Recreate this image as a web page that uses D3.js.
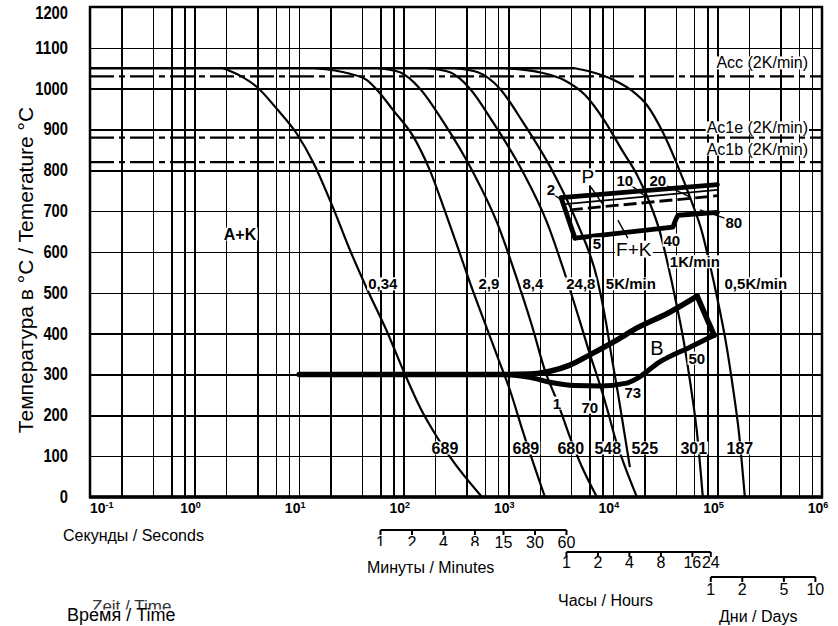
<!DOCTYPE html>
<html>
<head>
<meta charset="utf-8">
<script src="https://cdn.jsdelivr.net/npm/d3@7/dist/d3.min.js"></script>
<style>
body { margin:0; background:#fff; }
svg { display:block; font-family:"Liberation Sans", Arial, sans-serif; }
</style>
</head>
<body>
<svg id="cct" width="838" height="626"></svg>
<script>
// axes
var tempTicks = [0,100,200,300,400,500,600,700,800,900,1000,1100,1200];
var decades = [0.1,1,10,100,1000,10000,100000,1000000];
var decadeExp = ["-1","0","1","2","3","4","5","6"];
var gridSteps = [1,2,4,6,8];

// extra time scales
var minuteTicks = [1,2,4,8,15,30,60];
var hourTicks = [1,2,4,8,16,24];
var dayTicks = [1,2,5,10];

// austenitizing temperature and Ac points
var austTemp = 1050;
var austTimes = [0.1, 4335];
var acTemps = [1030, 880, 820];
var acNames = ["Acc (2K/min)", "Ac1e (2K/min)", "Ac1b (2K/min)"];
var acLabelTemps = [1063, 904, 852];

// cooling curves [time s, temp C]
var cool034 = [[1.87,1050],[2.72,1032],[3.95,1004],[6.14,950],[9.53,889],[13.6,820],[21,710],[30.6,605],[44.5,510],[69,406],[103,300],[143,220],[208,147],[277,98],[560,0]];
var cool29 = [[14.2,1050],[30,1037],[44.5,1021],[59.2,989],[78.9,948],[122,885],[178,800],[248,700],[330,610],[430,525],[624,413],[831,328],[1036,262],[1380,160],[2240,0]];
var cool84 = [[56.6,1050],[92,1040],[143,1000],[240,918],[459,796],[778,673],[1236,527],[1682,420],[2240,310],[2980,230],[3880,147],[4840,85],[7030,0]];
var cool248 = [[170,1050],[277,1040],[430,1000],[713,918],[1380,796],[2340,673],[3630,532],[4840,430],[6030,350],[7520,275],[8950,210],[10440,147],[13030,75],[16980,0]];
var cool5 = [[309,1050],[512,1040],[831,1000],[1380,918],[2673,796],[4530,673],[7194,527],[8570,430],[9780,340],[11170,255],[12740,165],[14550,73]];
var cool1 = [[927,1050],[2005,1040],[3475,1020],[5400,985],[8390,920],[12190,850],[16950,790],[22570,720],[28130,650],[33560,570],[40000,480],[47700,380],[55700,270],[63600,160],[72500,0]];
var cool05 = [[4335,1050],[6030,1042],[10440,1020],[15200,995],[21150,960],[30060,893],[40930,816],[56900,722],[71000,650],[84600,570],[100900,480],[120300,380],[140300,270],[160200,160],[182800,0]];

var coolNames = ["0,34","2,9","8,4","24,8","5K/min","1K/min","0,5K/min"];
var coolNameAt = [[63,522],[653,522],[1718,522],[4940,522],[14860,522],[60800,576],[232800,522]];
var hardness = ["689","689","680","548","525","301","187"];
var hardnessTimes = [248,1472,3960,8950,20200,59400,163800];
var hardnessTemp = 120;

// ferrite / pearlite field
var pearliteTop = [[3200,733],[100000,765]];
var pearliteLeft = [[3200,733],[4340,634]];
var pearliteBottom = [[4340,634],[37500,661],[40000,680],[42000,690],[100000,697]];
var pearliteInner = [[3475,717],[100000,752]];
var pearliteDash = [[3880,703],[100000,738]];

// martensite start + bainite field
var bainiteUpper = [[10,300],[927,300],[1610,301],[2500,308],[3880,323],[6200,350],[11000,385],[17000,414],[33500,450],[64000,492]];
var bainiteRight = [[64000,492],[93000,396]];
var bainiteLower = [[927,300],[1610,293],[2500,281],[4340,273],[7520,272],[13600,279],[16950,290],[28100,331],[54500,367],[93000,396]];

// field names and transformed amounts (%)
var regionNames = ["A+K","P","F+K","B"];
var regionAt = [[2.72,644],[5770,784],[15850,607],[26360,365]];
var pctNames = ["2","10","20","80","5","40","50","1","70","73"];
var pctAt = [[2550,754],[13030,776],[26900,776],[143600,673],[7030,620],[36640,629],[63500,340],[2920,230],[6030,220],[15520,255]];
var leaders = [
  [[2667,742],[3250,727]],
  [[6170,759],[8200,713]],
  [[15200,762],[20230,737]],
  [[32800,762],[54450,735]],
  [[123000,681],[67900,703]],
  [[13900,634],[11170,678]]
];

var svg = d3.select("#cct"),
  width = +svg.attr("width"),
 height = +svg.attr("height");

var x = d3.scaleLog().domain([0.1, 1e6]).range([90, 822]);
var y = d3.scaleLinear().domain([0, 1200]).range([497, 7]);

var line = d3.line()
             .x(function(d) { return x(d[0]); })
             .y(function(d) { return y(d[1]); });
var smooth = d3.line()
             .x(function(d) { return x(d[0]); })
             .y(function(d) { return y(d[1]); })
             .curve(d3.curveMonotoneX);

svg.append("rect").attr("width", width).attr("height", height).attr("fill", "#fff");

// grid
var gridTimes = [];
decades.forEach(function(d) {
  gridSteps.forEach(function(s) { if (d * s <= 1e6 * 1.0001) gridTimes.push(d * s); });
});

svg.append("g")
   .attr("transform", "translate(0,497)")
   .call(d3.axisBottom(x).tickValues(gridTimes).tickSize(-490).tickFormat(""))
   .call(function(g) {
     g.select(".domain").remove();
     g.selectAll("line").attr("stroke", "#000").attr("stroke-width", 1.5).attr("shape-rendering", "crispEdges");
   });

svg.append("g")
   .attr("transform", "translate(90,0)")
   .call(d3.axisLeft(y).tickValues(tempTicks).tickSize(-732).tickPadding(22).tickFormat(d3.format("d")))
   .call(function(g) {
     g.select(".domain").remove();
     g.selectAll("line").attr("stroke", "#000").attr("stroke-width", 1.5).attr("shape-rendering", "crispEdges");
     g.selectAll("text")
      .attr("fill", "#000")
      .attr("dy", function(d) { return d == 1200 ? "0.62em" : "0.3em"; })
      .attr("textLength", function(d) { return String(d).length * 8.2; })
      .attr("lengthAdjust", "spacingAndGlyphs")
      .style("font-weight", "bold")
      .style("font-size", "18px");
   });

// Ac lines
svg.selectAll(".ac")
   .data(acTemps)
   .enter()
   .append("line")
   .attr("x1", x(0.1)).attr("x2", x(1e6))
   .attr("y1", function(d) { return y(d); })
   .attr("y2", function(d) { return y(d); })
   .attr("stroke", "#000")
   .attr("stroke-width", 2.2)
   .attr("stroke-dasharray", "24,5,6,5");

// label with white box behind
function addLabel(px, py, txt, size, weight, anchor) {
  var g = svg.append("g");
  var t = g.append("text")
           .attr("x", px).attr("y", py)
           .attr("font-size", size)
           .attr("font-weight", weight || "normal")
           .attr("text-anchor", anchor || "middle")
           .attr("dominant-baseline", "central")
           .text(txt);
  var b = t.node().getBBox();
  g.insert("rect", "text")
   .attr("x", b.x - 1).attr("y", b.y + 2)
   .attr("width", b.width + 2).attr("height", b.height - 4)
   .attr("fill", "#fff");
  return t;
}

acNames.forEach(function(n, i) {
  addLabel(808, y(acLabelTemps[i]), n, 16, "normal", "end");
});

// austenitizing line
svg.append("path")
   .datum(austTimes.map(function(t) { return [t, austTemp]; }))
   .attr("d", line)
   .attr("fill", "none").attr("stroke", "#000").attr("stroke-width", 2.4);

// cooling curves
[cool034, cool29, cool84, cool248, cool5, cool1, cool05].forEach(function(c) {
  svg.append("path")
     .datum(c)
     .attr("d", smooth)
     .attr("fill", "none")
     .attr("stroke", "#000")
     .attr("stroke-width", 2.2);
});

// ferrite / pearlite
[pearliteTop, pearliteLeft, pearliteBottom].forEach(function(p) {
  svg.append("path").datum(p).attr("d", line)
     .attr("fill", "none").attr("stroke", "#000")
     .attr("stroke-width", 4.8).attr("stroke-linejoin", "round").attr("stroke-linecap", "round");
});
svg.append("path").datum(pearliteInner).attr("d", line)
   .attr("fill", "none").attr("stroke", "#000").attr("stroke-width", 1.8);
svg.append("path").datum(pearliteDash).attr("d", line)
   .attr("fill", "none").attr("stroke", "#000").attr("stroke-width", 2.8)
   .attr("stroke-dasharray", "13,5");

// Ms + bainite
svg.append("path").datum(bainiteUpper).attr("d", smooth)
   .attr("fill", "none").attr("stroke", "#000").attr("stroke-width", 5.5).attr("stroke-linecap", "round");
svg.append("path").datum(bainiteLower).attr("d", smooth)
   .attr("fill", "none").attr("stroke", "#000").attr("stroke-width", 5).attr("stroke-linecap", "round");
svg.append("path").datum(bainiteRight).attr("d", line)
   .attr("fill", "none").attr("stroke", "#000").attr("stroke-width", 5.5).attr("stroke-linecap", "round");

// leaders
leaders.forEach(function(l) {
  svg.append("path").datum(l).attr("d", line)
     .attr("fill", "none").attr("stroke", "#000").attr("stroke-width", 1.4);
});

// labels
coolNames.forEach(function(n, i) {
  addLabel(x(coolNameAt[i][0]), y(coolNameAt[i][1]), n, 15, "bold");
});
hardness.forEach(function(n, i) {
  addLabel(x(hardnessTimes[i]), y(hardnessTemp), n, 16, "bold");
});
var regionSize = [16, 19, 19, 20],
    regionWeight = ["bold", "normal", "normal", "normal"];
regionNames.forEach(function(n, i) {
  addLabel(x(regionAt[i][0]), y(regionAt[i][1]), n, regionSize[i], regionWeight[i]);
});
pctNames.forEach(function(n, i) {
  addLabel(x(pctAt[i][0]), y(pctAt[i][1]), n, 15, "bold");
});

// frame
svg.append("rect")
   .attr("x", 90).attr("y", 7).attr("width", 732).attr("height", 490)
   .attr("fill", "none").attr("stroke", "#000").attr("stroke-width", 2.5);
svg.append("line")
   .attr("x1", 89).attr("x2", 823).attr("y1", 497).attr("y2", 497)
   .attr("stroke", "#000").attr("stroke-width", 3.5);

// decade labels
decades.forEach(function(d, i) {
  var t = svg.append("text")
             .attr("x", i == 0 ? x(d) : x(d) - 4)
             .attr("y", 513)
             .attr("text-anchor", i == 0 ? "start" : "middle")
             .style("font-weight", "bold")
             .style("font-size", "14px")
             .text("10");
  t.append("tspan").attr("dy", -5).style("font-size", "9px").text(decadeExp[i]);
});

// minute / hour / day brackets
function drawScale(vals, unit, yl, yt) {
  var g = svg.append("g");
  var x0 = x(vals[0] * unit), x1 = x(vals[vals.length - 1] * unit);
  g.append("line").attr("x1", x0).attr("x2", x1).attr("y1", yl).attr("y2", yl)
   .attr("stroke", "#000").attr("stroke-width", 2);
  g.selectAll("line.tk")
   .data(vals)
   .enter()
   .append("line")
   .attr("class", "tk")
   .attr("x1", function(d) { return x(d * unit); })
   .attr("x2", function(d) { return x(d * unit); })
   .attr("y1", yl).attr("y2", yl + 5)
   .attr("stroke", "#000").attr("stroke-width", 2);
  g.selectAll("text")
   .data(vals)
   .enter()
   .append("text")
   .attr("x", function(d) { return x(d * unit); })
   .attr("y", yt)
   .attr("text-anchor", "middle")
   .attr("font-size", 16)
   .text(function(d) { return d; });
}
drawScale(minuteTicks, 60, 530, 548);
// lower part of the first minute numbers is covered in the source
svg.append("rect").attr("x", 370).attr("y", 546).attr("width", 118).attr("height", 8).attr("fill", "#fff");
drawScale(hourTicks, 3600, 552, 568);
drawScale(dayTicks, 86400, 577, 595);

// axis titles
function plain(px, py, txt, size, fill) {
  return svg.append("text").attr("x", px).attr("y", py)
            .attr("font-size", size).attr("fill", fill || "#000").text(txt);
}
plain(63, 541, "Секунды / Seconds", 16);
plain(367, 573, "Минуты / Minutes", 16);
plain(558, 606, "Часы / Hours", 16);
plain(719, 622, "Дни / Days", 16);
plain(92, 612, "Zeit / Time", 17, "#333");
svg.append("rect").attr("x", 60).attr("y", 609.5).attr("width", 125).attr("height", 16).attr("fill", "#fff");
plain(67, 621, "Время / Time", 18);

svg.append("text")
   .attr("transform", "translate(33,270) rotate(-90)")
   .attr("text-anchor", "middle")
   .attr("font-size", 21)
   .text("Температура в °C / Temerature °C");
</script>
</body>
</html>
